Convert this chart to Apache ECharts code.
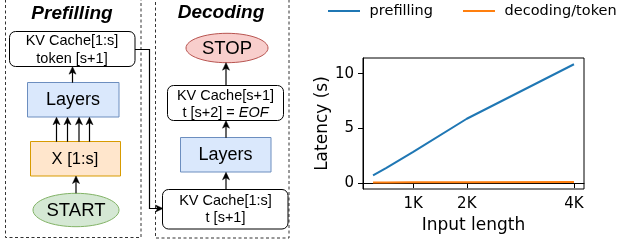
<!DOCTYPE html>
<html><head><meta charset="utf-8">
<script src="https://cdn.jsdelivr.net/npm/echarts@6/dist/echarts.min.js"></script>
<style>html,body{margin:0;padding:0;background:#fff}#c{width:618px;height:248px}</style>
</head><body><div id="c"></div>
<script>
// ---- data ----
const inputLengths = [256, 512, 1024, 2048, 4096];
const prefillingLatency = [0.7, 1.4, 2.85, 5.88, 10.86];
const decodingLatency = [0.06, 0.06, 0.07, 0.08, 0.09];
const seriesNames = ['prefilling', 'decoding/token'];
const xTickValues = [1024, 2048, 4096];
const xTickLabels = ['1K', '2K', '4K'];
const yTickValues = [0, 5, 10];
const yTickLabels = ['0', '5', '10'];
const xAxisName = 'Input length';
const yAxisName = 'Latency (s)';
const diagramTitles = ['Prefilling', 'Decoding'];

// ---- diagram helpers ----
function txt(t, x, y, size, extra) {
  return {type:'text', z:10, style:Object.assign({text:t, x:x, y:y, align:'center', verticalAlign:'middle', fill:'#000', fontFamily:'Liberation Sans', fontSize:size}, extra||{})};
}
function box(x, y, w, h, fill, stroke, r) {
  return {type:'rect', z:5, shape:{x:x, y:y, width:w, height:h, r:r||0}, style:{fill:fill, stroke:stroke, lineWidth:1}};
}
function ell(cx, cy, rx, ry, fill, stroke) {
  return {type:'ellipse', z:5, shape:{cx:cx, cy:cy, rx:rx, ry:ry}, style:{fill:fill, stroke:stroke, lineWidth:1}};
}
function arrowUp(x, yTail, yTip) {
  return [
    {type:'line', z:6, shape:{x1:x, y1:yTail, x2:x, y2:yTip+5}, style:{stroke:'#000', lineWidth:1.2}},
    {type:'polygon', z:6, shape:{points:[[x, yTip], [x-3.5, yTip+7.5], [x, yTip+5.5], [x+3.5, yTip+7.5]]}, style:{fill:'#000', stroke:'#000', lineWidth:0.5}}
  ];
}
function dashed(x, y, w, h) {
  return {type:'rect', z:1, shape:{x:x, y:y, width:w, height:h}, style:{fill:'none', stroke:'#333', lineWidth:1, lineDash:[3,2.5]}};
}

const g = [];
g.push(dashed(5.5, -10, 135.5, 247.5));
g.push(dashed(155.5, -10, 133.5, 248));
// Prefilling
g.push(txt(diagramTitles[0], 72, 14, 19, {fontWeight:'bold', fontStyle:'italic'}));
g.push(box(9.5, 31.5, 125.5, 35, '#fff', '#000', 6));
g.push(txt('KV Cache[1:s]', 72, 41, 14.5));
g.push(txt('token [s+1]', 72, 59, 14.5));
g.push(...arrowUp(72.5, 82.7, 66.7));
g.push(box(27.5, 82.5, 91.5, 34.5, '#dae8fc', '#6c8ebf'));
g.push(txt('Layers', 73, 100, 18));
[56.5, 67.5, 79, 89.5].forEach(x => g.push(...arrowUp(x, 141.7, 117.3)));
g.push(box(30.5, 141.5, 90, 34.5, '#ffe6cc', '#d79b00'));
g.push(txt('X [1:s]', 75, 159, 16.5));
g.push(...arrowUp(76, 193.3, 176));
g.push(ell(76, 210, 43, 16.7, '#d5e8d4', '#82b366'));
g.push(txt('START', 76, 210.5, 18.5));
// connector
g.push({type:'polyline', z:6, shape:{points:[[135, 49.5], [149.5, 49.5], [149.5, 208.5], [158, 208.5]]}, style:{stroke:'#000', lineWidth:1.2, fill:'none'}});
g.push({type:'polygon', z:6, shape:{points:[[163, 208.5], [155.5, 205], [157.5, 208.5], [155.5, 212]]}, style:{fill:'#000', stroke:'#000', lineWidth:0.5}});
// Decoding
g.push(txt(diagramTitles[1], 221, 13, 19, {fontWeight:'bold', fontStyle:'italic'}));
g.push(ell(227, 48, 41, 14.7, '#f8cecc', '#b85450'));
g.push(txt('STOP', 227, 48.5, 18.5));
g.push(...arrowUp(226, 85, 62.7));
g.push(box(167.5, 85.5, 116, 35, '#fff', '#000', 6));
g.push(txt('KV Cache[s+1]', 225.5, 95.5, 14.5));
g.push(txt('{n|t [s+2] = }{i|EOF}', 225.5, 113, 14.5, {rich:{n:{fontSize:14.5, fontFamily:'Liberation Sans', fill:'#000'}, i:{fontSize:14.5, fontFamily:'Liberation Sans', fontStyle:'italic', fill:'#000'}}}));
g.push(...arrowUp(226, 137.7, 120.7));
g.push(box(180.5, 137.5, 90.5, 34.5, '#dae8fc', '#6c8ebf'));
g.push(txt('Layers', 225.5, 155, 18));
g.push(...arrowUp(226, 189, 172.3));
g.push(box(162.5, 189.5, 125.5, 39.5, '#fff', '#000', 6));
g.push(txt('KV Cache[1:s]', 225.5, 200.7, 14.5));
g.push(txt('t [s+1]', 225.5, 218.3, 14.5));

// ---- chart ----
const CF = 'DejaVu Sans';
const chart = echarts.init(document.getElementById('c'), null, {renderer:'canvas'});
chart.setOption({
  animation: false,
  backgroundColor: '#fff',
  textStyle: {fontFamily: CF},
  graphic: {elements: g},
  legend: {
    left: 328, top: 3.5, width: 330, padding: 0,
    itemWidth: 32, itemHeight: 2, itemGap: 30,
    icon: 'rect',
    formatter: n => ' ' + n,
    textStyle: {fontFamily: CF, fontSize: 14.5, color: '#000'},
    data: seriesNames
  },
  grid: {left: 363, right: 34, top: 58, bottom: 59, show: true, borderColor: '#000', borderWidth: 1, containLabel: false},
  xAxis: {
    type: 'value', min: 64, max: 4288,
    name: xAxisName, nameLocation: 'middle', nameGap: 28,
    nameTextStyle: {fontFamily: CF, fontSize: 17, color: '#000'},
    axisLine: {show: true, lineStyle: {color: '#000', width: 1}},
    axisTick: {show: true, length: 5, customValues: xTickValues, lineStyle: {color: '#000'}},
    axisLabel: {customValues: xTickValues, margin: 8, fontFamily: CF, fontSize: 15, color: '#000',
      formatter: v => { const i = xTickValues.indexOf(v); return i >= 0 ? xTickLabels[i] : ''; }},
    splitLine: {show: false}
  },
  yAxis: {
    type: 'value', min: -0.54, max: 11.43,
    name: yAxisName, nameLocation: 'middle', nameGap: 32, nameRotate: 90,
    nameTextStyle: {fontFamily: CF, fontSize: 17, color: '#000'},
    axisLine: {show: true, lineStyle: {color: '#000', width: 1}},
    axisTick: {show: true, length: 5, customValues: yTickValues, lineStyle: {color: '#000'}},
    axisLabel: {customValues: yTickValues, margin: 9, fontFamily: CF, fontSize: 15, color: '#000',
      formatter: v => { const i = yTickValues.indexOf(v); return i >= 0 ? yTickLabels[i] : ''; }},
    splitLine: {show: false}
  },
  series: [
    {name: seriesNames[0], type: 'line', symbol: 'none', color: '#1f77b4', lineStyle: {width: 2, color: '#1f77b4'},
      data: inputLengths.map((x, i) => [x, prefillingLatency[i]])},
    {name: seriesNames[1], type: 'line', symbol: 'none', color: '#ff7f0e', lineStyle: {width: 2, color: '#ff7f0e'},
      data: inputLengths.map((x, i) => [x, decodingLatency[i]])}
  ]
});
</script></body></html>
